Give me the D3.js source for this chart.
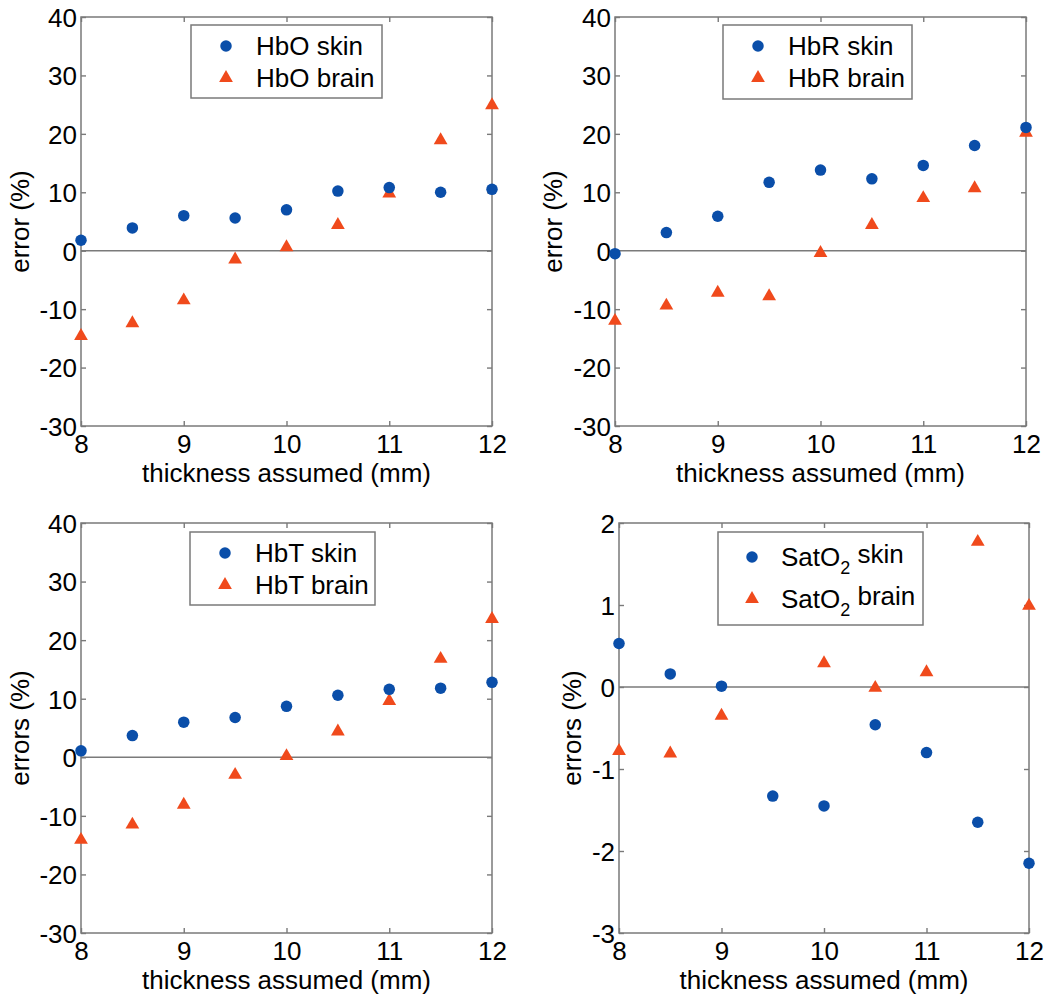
<!DOCTYPE html>
<html>
<head>
<meta charset="utf-8">
<script src="https://cdn.jsdelivr.net/npm/d3@7"></script>
<style>
  html, body { margin: 0; padding: 0; background: #fff; }
  svg { display: block; }
  text { font-family: "Liberation Sans", Arial, Helvetica, sans-serif; fill: #000; }
</style>
</head>
<body>
<svg id="chart" width="1050" height="1002"></svg>
<script>
// ---- data ----
const thickness = [8, 8.5, 9, 9.5, 10, 10.5, 11, 11.5, 12];
const xTicks = [8, 9, 10, 11, 12];
const yTicksHb = [-30, -20, -10, 0, 10, 20, 30, 40];
const yTicksSat = [-3, -2, -1, 0, 1, 2];

const hboSkin  = [1.8, 3.9, 6.0, 5.6, 7.0, 10.2, 10.8, 10.0, 10.5];
const hboBrain = [-14.6, -12.4, -8.5, -1.5, 0.6, 4.4, 9.8, 18.9, 24.9];

const hbrSkin  = [-0.5, 3.1, 5.9, 11.7, 13.8, 12.3, 14.6, 18.0, 21.1];
const hbrBrain = [-12.0, -9.4, -7.2, -7.8, -0.4, 4.4, 9.0, 10.7, 20.2];

const hbtSkin  = [1.1, 3.7, 6.0, 6.8, 8.7, 10.6, 11.6, 11.8, 12.8];
const hbtBrain = [-14.1, -11.5, -8.1, -3.0, 0.2, 4.4, 9.6, 16.8, 23.6];

const satSkin  = [0.53, 0.16, 0.01, -1.33, -1.45, -0.46, -0.80, -1.65, -2.15];
const satBrain = [-0.78, -0.81, -0.35, null, 0.29, -0.01, 0.18, 1.77, 0.99];

const xLabel = "thickness assumed (mm)";

// ---- layout / style ----
const blue = "#0a4ea9";
const orange = "#f04a1c";
const axisGray = "#7a7a7a";
const fontSize = 26;
const plainFmt = d => String(d);   // hyphen-minus like the original

const panels = [
  { x0: 81,  x1: 492,  y0: 17,  y1: 426, yDomain: [-30, 40], yTicks: yTicksHb, skin: hboSkin, brain: hboBrain,
    yLabel: "error (%)", yLabelX: 20, legend: { x: 191, y: 25, w: 191, h: 73, name: "HbO", sub: false } },
  { x0: 615, x1: 1026, y0: 17,  y1: 426, yDomain: [-30, 40], yTicks: yTicksHb, skin: hbrSkin, brain: hbrBrain,
    yLabel: "error (%)", yLabelX: 553, legend: { x: 723, y: 25, w: 189, h: 74, name: "HbR", sub: false } },
  { x0: 81,  x1: 492,  y0: 523, y1: 933, yDomain: [-30, 40], yTicks: yTicksHb, skin: hbtSkin, brain: hbtBrain,
    yLabel: "errors (%)", yLabelX: 20, legend: { x: 190, y: 532, w: 185, h: 73, name: "HbT", sub: false } },
  { x0: 619, x1: 1029, y0: 523, y1: 933, yDomain: [-3, 2], yTicks: yTicksSat, skin: satSkin, brain: satBrain,
    yLabel: "errors (%)", yLabelX: 572, legend: { x: 718, y: 532, w: 205, h: 93, name: "SatO", sub: true } }
];

const svg = d3.select("#chart");
const circleSym = d3.symbol().type(d3.symbolCircle).size(104);
const triSym = d3.symbol().type(d3.symbolTriangle).size(82);

panels.forEach(p => {
  const x = d3.scaleLinear().domain([8, 12]).range([p.x0, p.x1]);
  const y = d3.scaleLinear().domain(p.yDomain).range([p.y1, p.y0]);
  const g = svg.append("g");
  const tickLen = 5;

  // zero line
  g.append("line")
    .attr("x1", p.x0).attr("x2", p.x1)
    .attr("y1", y(0)).attr("y2", y(0))
    .attr("stroke", axisGray).attr("stroke-width", 1.4);

  // axes with inward ticks on all four sides
  const gxb = g.append("g").attr("transform", `translate(0,${p.y1})`)
    .call(d3.axisBottom(x).tickValues(xTicks).tickSize(-tickLen).tickPadding(9).tickFormat(plainFmt));
  const gxt = g.append("g").attr("transform", `translate(0,${p.y0})`)
    .call(d3.axisTop(x).tickValues(xTicks).tickSize(-tickLen).tickFormat(""));
  const gyl = g.append("g").attr("transform", `translate(${p.x0},0)`)
    .call(d3.axisLeft(y).tickValues(p.yTicks).tickSize(-tickLen).tickPadding(4).tickFormat(plainFmt));
  const gyr = g.append("g").attr("transform", `translate(${p.x1},0)`)
    .call(d3.axisRight(y).tickValues(p.yTicks).tickSize(-tickLen).tickFormat(""));

  [gxb, gxt, gyl, gyr].forEach(a => {
    a.select(".domain").remove();
    a.selectAll(".tick line").attr("stroke", axisGray).attr("stroke-width", 1.4);
    a.selectAll("text").style("font-family", '"Liberation Sans", Arial, sans-serif')
      .style("font-size", fontSize + "px").attr("fill", "#000");
  });
  gyl.selectAll(".tick text").attr("dy", "0.36em");
  gxb.selectAll(".tick text").attr("dy", "0.7em");

  // box
  g.append("rect")
    .attr("x", p.x0).attr("y", p.y0)
    .attr("width", p.x1 - p.x0).attr("height", p.y1 - p.y0)
    .attr("fill", "none").attr("stroke", axisGray).attr("stroke-width", 1.5);

  // x label
  g.append("text")
    .attr("x", (p.x0 + p.x1) / 2).attr("y", p.y1 + 56)
    .attr("text-anchor", "middle")
    .style("font-size", fontSize + "px")
    .text(xLabel);

  // y label
  g.append("text")
    .attr("transform", `translate(${p.yLabelX},${(p.y0 + p.y1) / 2}) rotate(-90)`)
    .attr("text-anchor", "middle")
    .attr("dominant-baseline", "central")
    .style("font-size", fontSize + "px")
    .text(p.yLabel);

  // data markers
  const skinPts = thickness.map((t, i) => ({ t, v: p.skin[i] })).filter(d => d.v != null);
  const brainPts = thickness.map((t, i) => ({ t, v: p.brain[i] })).filter(d => d.v != null);

  g.selectAll(".brain").data(brainPts).enter().append("path")
    .attr("d", triSym)
    .attr("transform", d => `translate(${x(d.t)},${y(d.v)})`)
    .attr("fill", orange);
  g.selectAll(".skin").data(skinPts).enter().append("path")
    .attr("d", circleSym)
    .attr("transform", d => `translate(${x(d.t)},${y(d.v)})`)
    .attr("fill", blue);

  // legend
  const L = p.legend;
  const lg = g.append("g");
  lg.append("rect")
    .attr("x", L.x).attr("y", L.y).attr("width", L.w).attr("height", L.h)
    .attr("fill", "#fff").attr("stroke", axisGray).attr("stroke-width", 1.5);
  const rowGap = L.sub ? 42 : 32;
  const row1 = L.sub ? L.y + 25 : L.y + 21;
  const mx = L.x + (L.sub ? 34 : 35);
  const tx = L.x + (L.sub ? 63 : 65);
  const entries = [
    { label: "skin", sym: circleSym, color: blue },
    { label: "brain", sym: triSym, color: orange }
  ];
  entries.forEach((e, i) => {
    const ry = row1 + i * rowGap;
    lg.append("path").attr("d", e.sym).attr("transform", `translate(${mx},${ry})`).attr("fill", e.color);
    const t = lg.append("text").attr("x", tx).attr("y", ry).attr("dy", "0.36em")
      .style("font-size", fontSize + "px");
    t.append("tspan").text(L.name);
    if (L.sub) {
      t.append("tspan").attr("dy", "0.42em").style("font-size", "18px").text("2");
      t.append("tspan").attr("dy", "-0.42em").text(" " + e.label);
    } else {
      t.append("tspan").text(" " + e.label);
    }
  });
});
</script>
</body>
</html>
